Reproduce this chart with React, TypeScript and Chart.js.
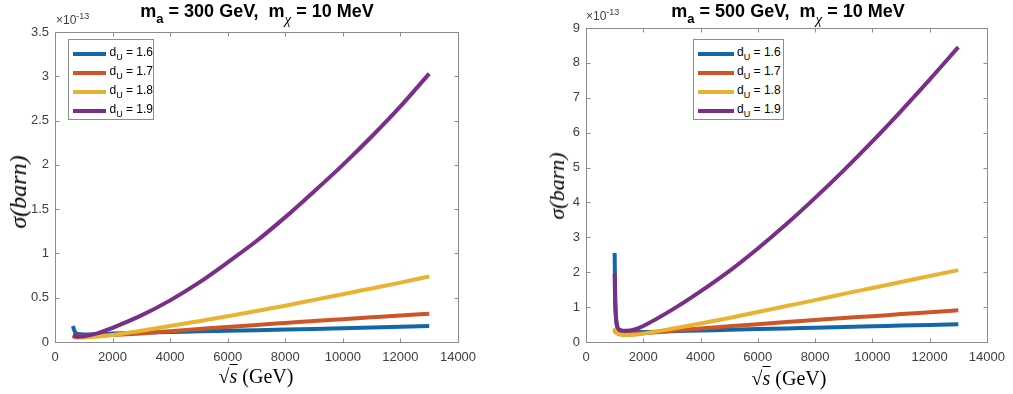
import React, { useEffect, useRef } from "react";
import { Chart, registerables } from "chart.js";

Chart.register(...registerables);

// ---------- data (cross-section in units of 1e-13 barn) ----------
const SERIES_LABELS = ["1.6", "1.7", "1.8", "1.9"];
const SERIES_COLORS = ["#1268a6", "#cc5628", "#e8b332", "#7a2e8a"];

// Left panel: m_a = 300 GeV
const LEFT_X = [620, 700, 800, 1000, 1500, 2000, 3000, 4000, 5000, 6000, 7000, 8000, 9000, 10000, 11000, 12000, 13000];
const LEFT_BLUE = [0.18, 0.11, 0.09, 0.085, 0.09, 0.095, 0.105, 0.112, 0.12, 0.127, 0.134, 0.141, 0.148, 0.155, 0.163, 0.171, 0.18];
const LEFT_ORANGE = [0.07, 0.065, 0.065, 0.068, 0.075, 0.08, 0.097, 0.122, 0.146, 0.17, 0.193, 0.215, 0.237, 0.258, 0.279, 0.3, 0.32];
const LEFT_YELLOW = [0.055, 0.05, 0.05, 0.05, 0.062, 0.078, 0.127, 0.18, 0.235, 0.29, 0.35, 0.41, 0.476, 0.54, 0.605, 0.67, 0.74];
const LEFT_PURPLE = [0.075, 0.065, 0.06, 0.065, 0.1, 0.16, 0.3, 0.47, 0.67, 0.9, 1.14, 1.41, 1.7, 2.0, 2.32, 2.66, 3.03];

// Right panel: m_a = 500 GeV
const RIGHT_X = [1000, 1020, 1050, 1100, 1200, 1400, 1700, 2000, 3000, 4000, 5000, 6000, 7000, 8000, 9000, 10000, 11000, 12000, 13000];
const RIGHT_BLUE = [2.55, 1.3, 0.7, 0.42, 0.33, 0.3, 0.29, 0.29, 0.31, 0.33, 0.35, 0.37, 0.39, 0.41, 0.43, 0.45, 0.47, 0.49, 0.51];
const RIGHT_ORANGE = [0.35, 0.3, 0.27, 0.25, 0.23, 0.22, 0.23, 0.25, 0.32, 0.39, 0.45, 0.51, 0.57, 0.63, 0.69, 0.74, 0.8, 0.85, 0.91];
const RIGHT_YELLOW = [0.4, 0.33, 0.28, 0.24, 0.21, 0.2, 0.21, 0.24, 0.38, 0.53, 0.69, 0.86, 1.03, 1.2, 1.38, 1.55, 1.72, 1.89, 2.06];
const RIGHT_PURPLE = [1.95, 1.1, 0.65, 0.42, 0.34, 0.32, 0.36, 0.46, 0.92, 1.45, 2.03, 2.68, 3.38, 4.13, 4.92, 5.75, 6.62, 7.52, 8.45];

const X_TICKS = [0, 2000, 4000, 6000, 8000, 10000, 12000, 14000];
const LEFT_Y_TICKS = [0, 0.5, 1, 1.5, 2, 2.5, 3, 3.5];
const RIGHT_Y_TICKS = [0, 1, 2, 3, 4, 5, 6, 7, 8, 9];

const SANS = '"Liberation Sans", Arial, Helvetica, sans-serif';
const SERIF = '"Liberation Serif", "Times New Roman", serif';
const AXIS_GRAY = "#8c8c8c";
const TEXT_GRAY = "#404040";

const boxPlugin = {
  id: "matlabBox",
  beforeDatasetsDraw(chart: any) {
    const { ctx, chartArea: a, scales } = chart;
    ctx.save();
    ctx.strokeStyle = AXIS_GRAY;
    ctx.lineWidth = 1;
    const L = Math.round(a.left) + 0.5;
    const R = Math.round(a.right) + 0.5;
    const T = Math.round(a.top) + 0.5;
    const B = Math.round(a.bottom) + 0.5;
    ctx.strokeRect(L, T, R - L, B - T);
    const tl = 4;
    ctx.beginPath();
    scales.x.ticks.forEach((t: any) => {
      const p = Math.round(scales.x.getPixelForValue(t.value)) + 0.5;
      ctx.moveTo(p, B);
      ctx.lineTo(p, B - tl);
      ctx.moveTo(p, T);
      ctx.lineTo(p, T + tl);
    });
    scales.y.ticks.forEach((t: any) => {
      const p = Math.round(scales.y.getPixelForValue(t.value)) + 0.5;
      ctx.moveTo(L, p);
      ctx.lineTo(L + tl, p);
      ctx.moveTo(R, p);
      ctx.lineTo(R - tl, p);
    });
    ctx.stroke();
    ctx.restore();
  },
};

type PanelProps = {
  left: number;
  width: number;
  xs: number[];
  series: number[][];
  yTicks: number[];
  yAxisWidth: number;
  padTop: number;
  padRight: number;
};

function Panel({ left, width, xs, series, yTicks, yAxisWidth, padTop, padRight }: PanelProps) {
  const ref = useRef<HTMLCanvasElement>(null);
  useEffect(() => {
    const datasets = series.map((ys, i) => ({
      label: SERIES_LABELS[i],
      data: xs.map((x, j) => ({ x, y: ys[j] })),
      borderColor: SERIES_COLORS[i],
      backgroundColor: SERIES_COLORS[i],
      borderWidth: 4,
      pointRadius: 0,
      cubicInterpolationMode: "monotone" as const,
      fill: false,
      order: 3 - i,
    }));
    const chart = new Chart(ref.current!, {
      type: "line",
      data: { datasets },
      options: {
        animation: false,
        responsive: false,
        maintainAspectRatio: false,
        layout: { padding: { top: padTop, right: padRight, left: 0, bottom: 0 } },
        plugins: { legend: { display: false }, tooltip: { enabled: false }, title: { display: false } },
        scales: {
          x: {
            type: "linear",
            min: X_TICKS[0],
            max: X_TICKS[X_TICKS.length - 1],
            grid: { display: false, drawTicks: false },
            border: { display: false },
            afterBuildTicks: (s: any) => {
              s.ticks = X_TICKS.map((v) => ({ value: v }));
            },
            afterFit: (s: any) => {
              s.height = 394 - 342;
            },
            ticks: {
              padding: 8,
              color: TEXT_GRAY,
              font: { family: SANS, size: 13 },
              maxRotation: 0,
              autoSkip: false,
              callback: (v: any) => String(v),
            },
          },
          y: {
            type: "linear",
            min: yTicks[0],
            max: yTicks[yTicks.length - 1],
            grid: { display: false, drawTicks: false },
            border: { display: false },
            afterBuildTicks: (s: any) => {
              s.ticks = yTicks.map((v) => ({ value: v }));
            },
            afterFit: (s: any) => {
              s.width = yAxisWidth;
            },
            ticks: {
              padding: 6,
              color: TEXT_GRAY,
              font: { family: SANS, size: 13 },
              autoSkip: false,
              callback: (v: any) => String(v),
            },
          },
        },
      },
      plugins: [boxPlugin],
    });
    return () => chart.destroy();
  }, []);
  return (
    <canvas
      ref={ref}
      width={width}
      height={394}
      style={{ position: "absolute", left, top: 0, width, height: 394 }}
    />
  );
}

function Title({ cx, ma }: { cx: number; ma: string }) {
  return (
    <div
      style={{
        position: "absolute",
        left: cx,
        top: 1,
        transform: "translateX(-50%)",
        whiteSpace: "nowrap",
        font: `bold 18px ${SANS}`,
        color: "#000",
      }}
    >
      m<span style={{ fontSize: 13, position: "relative", top: 6 }}>a</span> = {ma} GeV,&nbsp;&nbsp;m
      <span
        style={{
          fontFamily: SERIF,
          fontWeight: "normal",
          fontStyle: "italic",
          fontSize: 15,
          position: "relative",
          top: 7,
        }}
      >
        χ
      </span>{" "}
      = 10 MeV
    </div>
  );
}

function Exponent({ x, y }: { x: number; y: number }) {
  return (
    <div
      style={{
        position: "absolute",
        left: x,
        top: y,
        whiteSpace: "nowrap",
        font: `12px ${SANS}`,
        color: TEXT_GRAY,
      }}
    >
      ×10<span style={{ fontSize: 9, position: "relative", top: -5 }}>-13</span>
    </div>
  );
}

function YLabel({ cx, cy, size }: { cx: number; cy: number; size: number }) {
  return (
    <div
      style={{
        position: "absolute",
        left: cx,
        top: cy,
        transform: "translate(-50%, -50%) rotate(-90deg)",
        whiteSpace: "nowrap",
        font: `italic ${size}px ${SERIF}`,
        color: "#000",
        lineHeight: 1,
      }}
    >
      σ(barn)
    </div>
  );
}

function XLabel({ cx, cy }: { cx: number; cy: number }) {
  return (
    <div
      style={{
        position: "absolute",
        left: cx,
        top: cy,
        transform: "translate(-50%, -50%)",
        whiteSpace: "nowrap",
        font: `20px ${SERIF}`,
        color: "#000",
        lineHeight: 1,
      }}
    >
      √<span style={{ fontStyle: "italic", borderTop: "1px solid #000" }}>s</span>&nbsp;(GeV)
    </div>
  );
}

function Legend({ x, y, w, h }: { x: number; y: number; w: number; h: number }) {
  return (
    <div
      style={{
        position: "absolute",
        left: x,
        top: y,
        width: w,
        height: h,
        boxSizing: "border-box",
        border: `1px solid ${AXIS_GRAY}`,
        background: "#fff",
        paddingTop: 4,
      }}
    >
      {SERIES_LABELS.map((lab, i) => (
        <div key={lab} style={{ display: "flex", alignItems: "center", height: 19, paddingLeft: 4 }}>
          <div style={{ width: 36, height: 4, background: SERIES_COLORS[i], marginRight: 3 }} />
          <div style={{ font: `12px ${SANS}`, color: "#000", whiteSpace: "nowrap", marginTop: -3 }}>
            d<span style={{ fontSize: 9, position: "relative", top: 4 }}>U</span> = {lab}
          </div>
        </div>
      ))}
    </div>
  );
}

export default function App() {
  useEffect(() => {
    document.body.style.margin = "0";
  }, []);
  return (
    <div
      style={{
        position: "fixed",
        left: 0,
        top: 0,
        width: 1013,
        height: 394,
        background: "#fff",
        overflow: "hidden",
      }}
    >
      <Panel
        left={0}
        width={500}
        xs={LEFT_X}
        series={[LEFT_BLUE, LEFT_ORANGE, LEFT_YELLOW, LEFT_PURPLE]}
        yTicks={LEFT_Y_TICKS}
        yAxisWidth={55}
        padTop={32}
        padRight={42}
      />
      <Panel
        left={500}
        width={513}
        xs={RIGHT_X}
        series={[RIGHT_BLUE, RIGHT_ORANGE, RIGHT_YELLOW, RIGHT_PURPLE]}
        yTicks={RIGHT_Y_TICKS}
        yAxisWidth={86}
        padTop={28}
        padRight={21}
      />
      <Title cx={257} ma="300" />
      <Title cx={788} ma="500" />
      <Exponent x={56} y={13} />
      <Exponent x={586} y={9} />
      <YLabel cx={18} cy={192} size={24} />
      <YLabel cx={557} cy={186} size={22} />
      <XLabel cx={256} cy={376} />
      <XLabel cx={789} cy={378} />
      <Legend x={68} y={39} w={86} h={81} />
      <Legend x={693} y={39} w={91} h={81} />
    </div>
  );
}
